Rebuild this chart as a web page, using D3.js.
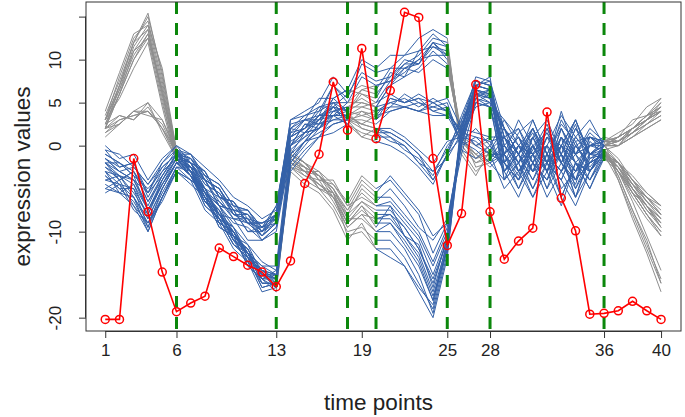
<!DOCTYPE html>
<html>
<head>
<meta charset="utf-8">
<script src="https://cdn.jsdelivr.net/npm/d3@7"></script>
<style>
  body { margin: 0; background: #fff; }
  svg { display: block; font-family: "Liberation Sans", Arial, sans-serif; }
</style>
</head>
<body>
<div id="chart"></div>
<script>
// time axis
const timePoints = [1,2,3,4,5,6,7,8,9,10,11,12,13,14,15,16,17,18,19,20,
  21,22,23,24,25,26,27,28,29,30,31,32,33,34,35,36,37,38,39,40];
const xTicks = [1, 6, 13, 19, 25, 28, 36, 40];
const yTicks = [15, 10, 5, 0, -5, -10, -15, -20];
const yTickLabels = ["", "10", "5", "0", "", "-10", "", "-20"];
const changePoints = [6, 13, 18, 20, 25, 28, 36];
const segmentEdges = [1, 6, 13, 18, 20, 25, 28, 36, 40];

// red reference profile
const reference = [-20.2, -20.2, -1.5, -7.7, -14.7, -19.3, -18.3, -17.5, -11.9, -12.9,
  -13.9, -14.7, -16.4, -13.4, -4.4, -1.0, 7.4, 1.8, 11.3, 0.8,
  6.4, 15.5, 14.9, -1.5, -11.6, -7.9, 7.1, -7.7, -13.2, -11.1,
  -9.6, 3.9, -6.1, -9.9, -19.6, -19.5, -19.2, -18.1, -19.2, -20.2];

// gene profiles t1..t40, grouped by their late behaviour
const genesA = [
  [3.5,7.5,12,15.4,8,-0.5, -1,-4,-5,-8,-8,-10.5,-8, 1.5,3,3.5,7,5.5, 9.5,8.5, 9,10.5,11,13,11.5, 0.5,-1.5,-0.5, -2,1.5,3,-1,2.5,0.5,-3,0, 1,3,3.5,5.5],
  [-1,-2,-3.5,-5,-3,-0.5, -3,-4,-7,-7.5,-10,-10,-8.5, 0,2.5,2.5,5.5,6.5, 10,9, 10.5,10.5,12.5,13.5,12.5, -0.5,-3,-1.5, 1,-3,-0.5,2.5,-2,-4.5,0.5,-1, -2,-4.5,-7,-8.5],
  [2.5,6.5,10.5,13,6,-1.5, -3.5,-6.5,-7.5,-11,-12,-15.5,-14.5, -1,1.5,2,4.5,6, 8.5,7.5, 8,10,9.5,12,10.5, 1,-1,0, -3,-1,1.5,-2,0,3,-1.5,-0.5, -3.5,-7.5,-11.5,-15.5],
  [-3,-3.5,-5.5,-8,-4.5,-2, -1.5,-4,-5,-7.5,-7.5,-9.5,-7, 2,3.5,4,7,5, 8,7, 7.5,9.5,9.5,12,10, 0,-2,-1.5, 0,2,-2,-4,1,-1,2,0.5, 0.5,2,3,4.5],
  [1.5,3,3.5,4,2.5,-1, -2,-4.5,-5.5,-8,-8.5,-10.5,-9, 0,1.5,3.5,4,4.5, 5.5,4.5, 7,9,9.5,11.5,10.5, 1.5,-2.5,-2, -4,-2,0,1.5,-1,-3,-2,-1, -2.5,-5,-7,-9.5],
  [-2,-4,-3,-6.5,-3.5,-1, -1.5,-3.5,-4.5,-7,-7.5,-10,-7, 2.5,3,5.5,5.5,6.5, 6,5.5, 8.5,8,11,11.5,11, -1,-3.5,-0.5, 2,-1,-3,0,3.5,1,-1,0.5, 1.5,2.5,4.5,5.5],
  [3,6.5,11.5,14,7,-1, -2,-3,-6,-6.5,-9,-9,-8.5, 1,2,4,5,5, 6.5,6, 8,9.5,10.5,12.5,12, 0,-2,-1, -1,-3.5,1,-2,-4,0,-2.5,-0.5, -3,-5.5,-8,-10.5],
  [-0.5,-2.5,-2,-6,-3,-1.5, -3,-5.5,-8,-10,-13,-14.5,-15, -1.5,0.5,2.5,3.5,5, 5,4.5, 7,8,9,11,9.5, 0.5,-1,-2, -1,1,-2,2,-1,3,-1,0, 0.5,2,3.5,4],
  [2,3.5,3,4.5,2,-1, -2.5,-3.5,-6,-7,-9,-9.5,-8, 1,2,3,5.5,4, 6,5, 7.5,8.5,10,10.5,10.5, 1,-1.5,-1, -2,0,-1,-3,1,-1,0,-0.5, -3,-6.5,-10.5,-14.5],
  [-1.5,-3,-2.5,-4.5,-2,0, -1,-2.5,-4,-6,-7,-8.5,-7.5, 3,4,5,8,6, 7,6.5, 9,9,10,12,11.5, 0.5,-1,-2.5, -1,3,0,-2,4,-1,1,0, -1.5,-4,-6,-7.5],
  [3,5.5,9,12,4.5,-2, -3.5,-5,-8,-9.5,-12.5,-14,-14, 0,1,3,3.5,4, 6.5,7, 7.5,9,8.5,10,9, 1,0,0.5, 1,-1,2,-1,-3,0.5,1,0.5, 0,1,2,3]
];
const genesB = [
  [-4,-4.5,-6,-9,-5.5,-2.5, -3,-5.5,-7,-9,-9.5,-11,-9.5, -0.5,1,2,4,3.5, 4.5,4, 5,5.5,4.5,5.5,4.5, 1,0.5,-1, -1,-5,-2,-6,-3,-1,-4,-1.5, -2,-4,-6.5,-8],
  [3,8,12.5,14.5,7.5,-1, -1,-3.5,-4.5,-7,-7.5,-9.5,-8.5, 1,3,2.5,5,3, 3.5,3, 5.5,5,5.5,4,3.5, 0.5,-0.5,-2, 0,-2,2,-1,-3,1,3,0, 0,2,3,4.5],
  [-1.5,-2.5,-2,-5.5,-2,-0.5, -3,-7,-8.5,-11.5,-13,-16.5,-16, -2,0.5,1,3.5,2.5, 4,3, 4.5,4.5,4,3.5,3.5, 2,0,-1, -5,-3,-6,-2,-4,-7,-3,-1, -2.5,-5.5,-8,-10],
  [2.5,3.5,3,5,1.5,-1.5, -2.5,-4,-7,-7.5,-10,-9.5,-9, 1,2,4.5,4.5,4, 3.5,4, 4.5,6,5,4.5,5, 0,1,-0.5, 1,-1,-4,0,-2,2,-1,0, 1,2,3.5,4.5],
  [-2.5,-3.5,-4,-7.5,-4.5,-1.5, -2,-4.5,-5.5,-7.5,-8,-10,-8, 1.5,2,3.5,4.5,4, 5,4.5, 5,4.5,4,4.5,4, 1.5,1,0.5, -3,0,-1,-5,-2,-4,1,-0.5, -2,-5,-7,-9],
  [-5,-5.5,-7,-10,-6,-3, -4,-5,-8,-8.5,-11,-11,-10, -1,0.5,1.5,2.5,3, 2.5,3.5, 4,4.5,5,4,4.5, -0.5,-1.5,0, -2,-4,1,-3,0,-2,-5,-1, -4,-8,-12,-16],
  [2,7,12,13.5,6.5,-1, -3,-5,-8.5,-10,-12.5,-15,-15.5, -2,0,2,3,3.5, 4,3.5, 5.5,5,6,5,4, 1.5,0,1, 1,-2,0,-3,2,-1,1.5,0, 0.5,1.5,3,4],
  [-3,-5.5,-4.5,-8.5,-5,-2, -2.5,-4,-6.5,-8,-9,-10.5,-9, 0,2.5,2,4,4.5, 4.5,5, 6,5,5.5,5,5.5, 2,1.5,1, -3,-1,-5,-2,-6,-2,-3,-1, -2.5,-4.5,-6,-8],
  [2,2.5,4,3.5,3,-0.5, -1.5,-3,-6,-6.5,-8.5,-9,-8, 2,1.5,3,4.5,3, 3,2.5, 4,4.5,4,5,4, 0.5,2,0, 3,0,2,-2,0,-3,1,0.5, 1,2,3.5,5]
];
const genesC = [
  [-3.5,-5,-6.5,-9.5,-6,-2.5, -2.5,-5.5,-6.5,-8.5,-8.5,-11,-9.5, 0,1.5,2,3.5,3.5, 2.5,2, 1.5,0.5,-1,-3,-0.5, 3,6,5.5, 0,-2,1,3,-1,-3,0,1, 0.5,1.5,2.5,3.5],
  [2,6,10,12.5,6.5,-1.5, -3.5,-6.5,-8,-10.5,-12,-15.5,-15.5, -1.5,0.5,2.5,3,3, 2,1.5, 0.5,0,-2,-4,-1, 2.5,5.5,5, -4,0,-3,-1,-6,-2,-5,-1.5, -3,-5,-7.5,-9.5],
  [-0.5,-1,-2.5,-4.5,-2.5,-1, -1.5,-4,-5,-7.5,-8,-9.5,-8, 2,3,3,4.5,2.5, 1.5,1, 1,-0.5,-1.5,-3.5,0, 2,6.5,6, -2,-4,0,-3,1,-5,-2,-1, -2,-4.5,-6.5,-8],
  [1,2.5,4,4,2,-0.5, -2,-4,-5,-8,-8.5,-10,-9, 0.5,1.5,3.5,3.5,3.5, 2.5,2, 1,0,-2,-3,-1.5, 1.5,5,6, 2,0,-2,1,-1,2.5,-3,0, 0,1,2.5,3.5],
  [-4,-3.5,-6,-8.5,-5,-2, -3.5,-6,-9,-10,-13.5,-15,-16.5, -3,-1,1,2.5,3, 1,2, 2,1,-0.5,-2,0.5, 1,5.5,4.5, -3,-6,-2,-4,-1,-6,-3,-1, -2.5,-4.5,-6,-7],
  [-2,-3,-4,-7,-3.5,-1, -2,-3,-6,-6.5,-9,-9,-8, 3,3.5,4.5,5,4, 2,1.5, 1.5,0.5,-1,-4,-1, 3.5,7.5,7, 1,-1,-4,-1,-3,0,-2,-1, -2,-3.5,-5.5,-7],
  [-5.5,-4.5,-7.5,-9,-6,-3, -4,-5.5,-9,-10,-12.5,-14.5,-15.5, -2.5,-0.5,1,1.5,2.5, 1,0.5, 0,-1,-2.5,-4.5,-1, 1,4.5,5, 2,-3,-1,-5,0,-2,-4,-0.5, 0,1,2,3]
];
const genesD = [
  [3,7,11,13.5,6,-1, -3,-6,-7.5,-11,-12.5,-15.5,-15, -1,-2.5,-3.5,-5,-8, -6.5,-7.5, -7.5,-9.5,-12,-16,-11, 1,6.5,6, -1,1,-2,-4,0,-1,-3,-0.5, -2.5,-5,-7.5,-9],
  [-2,-3.5,-4.5,-7.5,-4.5,-2, -3,-6.5,-8,-11,-12.5,-16,-16, -2,-3,-4.5,-6,-9, -7.5,-9, -9,-11,-13.5,-18,-12, 2,7,6.5, -3,-1,2,-2,-4,0,1,0, 1,2,3,4],
  [2.5,6,11,12.5,5,-1.5, -3.5,-6,-9.5,-10.5,-14,-15.5,-16.5, -2.5,-3.5,-4,-6.5,-9.5, -8,-8.5, -8.5,-10.5,-12.5,-17,-11.5, 1.5,7.5,7, -2,-5,-1,-3,-7,-2,-4,-1, -3,-6,-8.5,-10.5],
  [-1.5,-3,-4,-5.5,-3.5,-1, -2.5,-5,-8.5,-9.5,-13,-14.5,-15, -1.5,-2.5,-3.5,-5,-7.5, -5.5,-7, -6.5,-8.5,-10.5,-14,-10, 0,6,5.5, 0,-3,-1,1.5,-2,-5,-1,-0.5, -2,-4.5,-6.5,-8.5],
  [2,3,3.5,4,2,-1.5, -3,-6.5,-8.5,-11.5,-12.5,-16,-16, -2,-3.5,-4.5,-6,-9, -7,-8.5, -8,-10.5,-13,-17.5,-12, 2.5,7,6.5, 1,-2,0,-3,2,-1,0,0.5, 0.5,1.5,3,4],
  [-4.5,-5.5,-6,-10,-6,-2.5, -4,-7.5,-9,-12,-13.5,-17,-16.5, -1,-2,-3.5,-5,-8.5, -8.5,-10, -10,-12,-15,-19.5,-12.5, 1,7,6.5, -4,-2,-6,-3,-1,-4,-2,-1, -3,-5.5,-8,-10],
  [4,8.5,13,14,9,-0.5, -2.5,-5.5,-7,-10.5,-11.5,-15,-15, -0.5,-2,-3,-4.5,-7, -6,-7, -7,-9,-11,-15,-10.5, 0.5,6,6, 2,-1,1,-2,3,0,-2,0, 0,1.5,3,5],
  [-3,-4.5,-5,-9.5,-5,-2, -3.5,-7,-8.5,-11.5,-13,-16.5,-16, -2.5,-4,-5,-7,-10, -9.5,-11, -11,-13,-16,-19,-12, 3,7.5,7, -1,-4,-2,0,-5,-3,-1,-1.5, -2.5,-5,-7,-9.5],
  [-2,-2,-3.5,-7.5,-4,-1, -2,-5,-6,-8.5,-9,-10.5,-9, -1.5,-3,-3,-5.5,-7.5, -4.5,-6, -6,-8,-10,-13.5,-9.5, 1.5,6,5, 3,1,-1,2,-2,1,-1,0, -2,-4,-6,-8],
  [-5,-4,-7,-9,-6.5,-3, -4.5,-6,-9.5,-10.5,-14,-15.5,-17, -2,-2.5,-5,-5.5,-10.5, -10,-12, -12,-14,-17,-20,-13, 2,7,8, -2,0,-3,1,-2,-4,0,0.5, -4,-8.5,-12.5,-17],
  [1.5,2.5,4,5,3,-1, -2.5,-6,-8,-10.5,-12,-14.5,-15.5, -1,-2,-4,-4.5,-6.5, -3.5,-5, -4,-6,-8,-12.5,-9, 0.5,5,4.5, 2,-1,-3,1,0,3,-1,0.5, 1,2,3.5,4.5],
  [-3.5,-5,-5,-8,-4,-1.5, -3,-5.5,-9,-10,-13,-15,-16, -3,-4.5,-5.5,-7.5,-11, -9,-12, -13,-14,-16.5,-18.5,-11.5, 2,8,7.5, 0,-2,-5,-1,-3,-6,-1.5,-1, -3,-5,-7,-8.5],
  [3,7,12,15,8.5,-1, -3,-6,-8,-10,-13,-14.5,-16, -2,-3,-4.5,-5.5,-9, -7,-9.5, -7,-10.5,-11.5,-16.5,-10.5, 1,6.5,5.5, -1,-3,0,-2,1,-2,-3,-0.5, -3.5,-7.5,-11,-16],
  [0,-1.5,-1,-4,-1.5,0, -2,-5.5,-7.5,-10,-12.5,-14,-15, -1.5,-3,-3.5,-6,-8, -5,-6.5, -5,-7,-9.5,-11,-8.5, 0,5.5,6.5, 1,2,-1,0,-2,2,0,0.5, 0.5,1.5,2.5,4],
  [-2.5,-4,-3,-6.5,-4,-1.5, -2,-5,-7,-9.5,-11.5,-13.5,-14.5, -1,-2,-4,-4,-7, -4,-5.5, -3.5,-5.5,-7.5,-10.5,-9, -1,5,4.5, -1,1,-3,-2,0,-4,-2,-1, -2,-4,-5.5,-7],
  [2,6,10,13,5.5,-2, -3.5,-6.5,-8.5,-11,-13.5,-16,-16, -2.5,-3,-5,-6,-9.5, -8,-10, -9,-11.5,-14,-18,-11, 1.5,6,6.5, -2,-4,0,-3,-1,-6,-1,-1, -3,-5.5,-7,-9],
  [-1,-2,-3,-5.5,-2.5,-1, -3,-6,-8,-10.5,-12.5,-15,-15.5, -1.5,-2.5,-3.5,-5.5,-8.5, -6.5,-8, -8,-9.5,-12,-15.5,-11, 2,7,7.5, 2,-1,3,-1,2,-2,0,0, 0.5,2,3,4]
];

// cluster colour of each gene in each of the 8 segments (g = gray, b = blue)
const membersA = ["gbbbbgbg","bbbbbgbg","gbbbbgbg","bbbbbgbg","gbbgbgbg","bbbgbgbg",
  "gbbgbgbg","bbbgbgbg","gbbgbgbg","bbbgbgbg","gbbgbgbg"];
const membersB = ["bbbgbbbg","gbbgbbbg","bbbgbbbg","gbbgbbbg","bbbgbbbg","bbbgbbbg",
  "gbbgbbbg","bbbgbbbg","gbbgbbbg"];
const membersC = ["bbbgbbbg","gbbgbbbg","bbbgbbbg","gbbgbbbg","bbbgbbbg","bbbgbbbg","bbbgbbbg"];
const membersD = ["gbggbbbg","bbggbbbg","gbggbbbg","bbggbbbg","gbggbbbg","bbggbbbg","gbggbbbg",
  "bbggbbbg","bbggbbbg","bbggbbbg","gbggbbbg","bbggbbbg","gbggbbbg","bbggbbbg",
  "bbggbbbg","gbggbbbg","bbggbbbg"];

const genes = [];
[[genesA, membersA], [genesB, membersB], [genesC, membersC], [genesD, membersD]].forEach(([vals, mem]) => {
  vals.forEach((v, i) => genes.push({values: v, member: mem[i]}));
});

const width = 685, height = 417;
const plot = {left: 86, right: 681, top: 2, bottom: 331};
const colors = {g: "#8e8e8e", b: "#3461a8"};
const ink = "#222";

const svg = d3.select("#chart").append("svg").attr("width", width).attr("height", height);

const x = d3.scaleLinear().domain([-0.35, 41.4]).range([plot.left, plot.right]);
const y = d3.scaleLinear().domain([-21.55, 16.7]).range([plot.bottom, plot.top]);

const line = d3.line().x(d => x(d[0])).y(d => y(d[1]));

// split every gene into the segments between change points
const pieces = [];
genes.forEach(g => {
  for (let s = 0; s < segmentEdges.length - 1; s++) {
    let pts = [];
    for (let t = segmentEdges[s]; t <= segmentEdges[s + 1]; t++) pts.push([t, g.values[t - 1]]);
    pieces.push({c: g.member[s], pts: pts});
  }
});

const geneLayer = svg.append("g").attr("fill", "none").attr("stroke-width", 1);
["g", "b"].forEach(c => {
  geneLayer.selectAll(null).data(pieces.filter(p => p.c === c)).enter()
    .append("path").attr("d", p => line(p.pts)).attr("stroke", colors[c]);
});

// change points
svg.append("g").selectAll("line").data(changePoints).enter().append("line")
  .attr("x1", d => x(d)).attr("x2", d => x(d))
  .attr("y1", plot.top).attr("y2", plot.bottom)
  .attr("stroke", "#0b870b").attr("stroke-width", 3).attr("stroke-dasharray", "12,9");

// reference profile
const refPts = timePoints.map((t, i) => [t, reference[i]]);
svg.append("path").attr("d", line(refPts)).attr("fill", "none")
  .attr("stroke", "#ff0000").attr("stroke-width", 1.6);
svg.append("g").selectAll("circle").data(refPts).enter().append("circle")
  .attr("cx", d => x(d[0])).attr("cy", d => y(d[1])).attr("r", 4)
  .attr("fill", "none").attr("stroke", "#ff0000").attr("stroke-width", 1.5);

// frame
svg.append("rect").attr("x", plot.left).attr("y", plot.top)
  .attr("width", plot.right - plot.left).attr("height", plot.bottom - plot.top)
  .attr("fill", "none").attr("stroke", "#333").attr("stroke-width", 1);

// x axis
const xAxis = d3.axisBottom(x).tickValues(xTicks).tickSize(7).tickPadding(6).tickSizeOuter(0);
const gx = svg.append("g").attr("transform", `translate(0,${plot.bottom})`).call(xAxis);
gx.select(".domain").attr("d", `M${x(1)},0.5H${x(40)}`).attr("stroke", "#333");
gx.selectAll(".tick line").attr("stroke", "#333");
gx.selectAll("text").attr("font-size", 17).attr("fill", ink)
  .attr("font-family", "Liberation Sans, Arial, sans-serif");

// y axis, labels parallel to the axis
const yAxis = d3.axisLeft(y).tickValues(yTicks).tickSize(7).tickSizeOuter(0)
  .tickFormat((d, i) => yTickLabels[i]);
const gy = svg.append("g").attr("transform", `translate(${plot.left},0)`).call(yAxis);
gy.select(".domain").attr("d", `M-0.5,${y(15)}V${y(-20)}`).attr("stroke", "#333");
gy.selectAll(".tick line").attr("stroke", "#333");
gy.selectAll("text").attr("font-size", 17).attr("fill", ink)
  .attr("font-family", "Liberation Sans, Arial, sans-serif")
  .attr("text-anchor", "middle")
  .attr("transform", "translate(-31,0) rotate(-90)")
  .attr("x", 0).attr("y", 0).attr("dy", "0.35em");

svg.append("text").text("time points").attr("x", (plot.left + plot.right) / 2 - 5).attr("y", 410)
  .attr("text-anchor", "middle").attr("font-size", 22.5).attr("fill", ink);
svg.append("text").text("expression values")
  .attr("transform", `translate(30,${(plot.top + plot.bottom) / 2 + 10}) rotate(-90)`)
  .attr("text-anchor", "middle").attr("font-size", 22.5).attr("fill", ink);
</script>
</body>
</html>
